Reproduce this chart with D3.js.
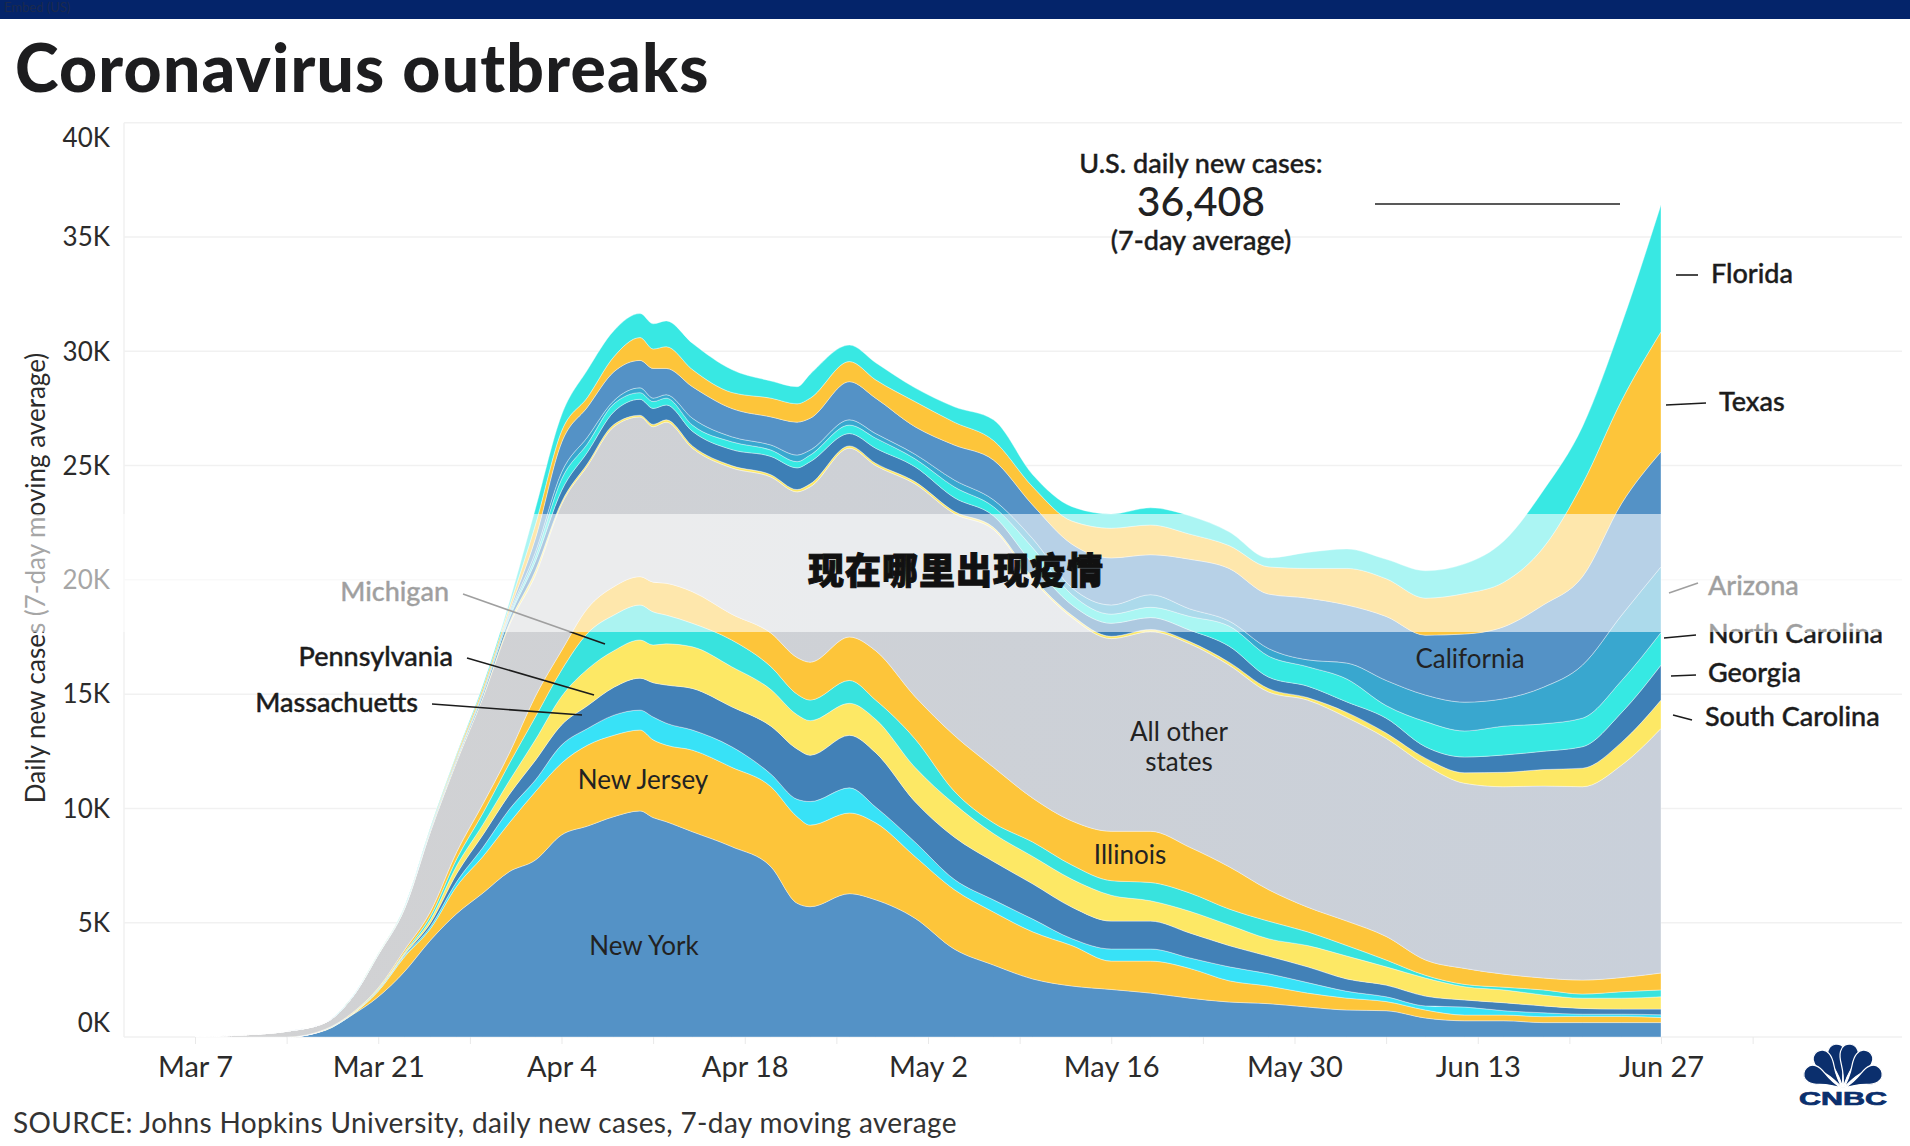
<!DOCTYPE html>
<html>
<head>
<meta charset="utf-8">
<style>
    html, body { margin: 0; padding: 0; background: #fff; }
    svg { display: block; }
    text { font-family: Lato, sans-serif; fill: #222; }
    .tick text { font-size: 29px; fill: #2b2b2b; }
    .label { font-size: 27px; font-weight: 500; fill: #1c1c1c; stroke: #1c1c1c; stroke-width: 0.4px; }
    .inside { font-size: 26px; font-weight: 400; }
</style>
<script src="https://cdn.jsdelivr.net/npm/d3@7"></script>
</head>
<body>
<svg id="chart" width="1910" height="1146"></svg>
<script>
// sample dates, values below are daily cases in thousands
const dates = ["2020-03-07","2020-03-11","2020-03-14","2020-03-17","2020-03-19","2020-03-21","2020-03-23","2020-03-25","2020-03-27","2020-03-29","2020-03-31","2020-04-02","2020-04-04","2020-04-06","2020-04-08","2020-04-10","2020-04-11","2020-04-12","2020-04-14","2020-04-17","2020-04-20","2020-04-22","2020-04-23","2020-04-26","2020-04-28","2020-05-01","2020-05-04","2020-05-07","2020-05-10","2020-05-13","2020-05-16","2020-05-19","2020-05-22","2020-05-25","2020-05-28","2020-05-31","2020-06-03","2020-06-06","2020-06-09","2020-06-12","2020-06-15","2020-06-18","2020-06-21","2020-06-24","2020-06-27"];

const newYork = [0,0,0,.3,.96,1.76,2.86,4.24,5.4,6.3,7.23,7.74,8.84,9.23,9.64,9.89,9.6,9.42,8.98,8.33,7.45,5.85,5.7,6.27,6.0,5.2,3.85,3.15,2.54,2.23,2.08,1.92,1.7,1.53,1.46,1.31,1.18,1.15,.83,.71,.71,.63,.63,.63,.63];
const newJersey = [0,0,0,.02,.02,.24,.64,.51,1.2,1.6,2.13,2.99,3.14,3.54,3.56,3.54,3.4,3.35,3.57,3.47,3.5,3.79,3.57,3.53,3.37,2.7,2.6,2.32,2.06,1.77,1.24,1.4,1.3,.93,.77,.61,.52,.4,.35,.25,.25,.26,.27,.27,.22];
const connecticut = [0,0,0,0,.01,.02,.05,.1,.2,.4,.59,.51,.79,.73,.88,.87,1.0,.96,.88,.9,.55,.76,1.03,1.1,.69,.63,.45,.53,.56,.3,.53,.53,.46,.61,.54,.46,.3,.21,.18,.35,.19,.17,.1,.1,.12];
const massachusetts = [0,0,0,.01,.01,.03,.05,.15,.35,.55,.65,.86,.88,1.0,1.22,1.4,1.5,1.67,1.82,1.75,2.1,2.2,2.03,2.3,2.38,1.77,1.85,1.68,1.54,1.38,1.22,1.22,1.09,.93,.77,.69,.54,.51,.43,.31,.35,.3,.25,.22,.25];
const pennsylvania = [0,0,0,0,.01,.03,.05,.15,.35,.45,.6,.9,1.25,1.6,1.6,1.67,1.65,1.8,1.82,1.75,1.6,1.5,1.51,1.4,1.46,1.5,1.45,1.22,1.2,1.22,1.13,.89,.95,.9,.76,.93,1.0,.8,.79,.58,.56,.48,.45,.48,.54];
const michigan = [0,0,0,.01,.01,.03,.05,.15,.3,.5,.75,1.0,1.15,1.57,1.56,1.53,1.45,1.26,1.03,1.17,1.0,.9,.9,1.0,.84,1.25,.56,.47,.63,.62,.64,.8,.8,.7,.77,.6,.46,.3,.12,.1,.12,.22,.18,.28,.3];
const illinois = [0,0,0,.01,.03,.04,.1,.2,.3,.4,.45,.9,.85,1.09,1.24,1.24,1.3,1.39,1.38,1.13,1.47,1.6,1.66,1.9,2.16,1.85,2.44,2.43,1.92,1.93,2.16,2.24,2.0,1.85,1.38,1.08,1.07,1.03,.67,.7,.57,.52,.61,.62,.74];
const otherStates = [.02,.1,.25,.29,.67,1.45,1.8,3.5,3.95,4.65,5.6,5.3,6.4,6.24,7.0,6.99,6.8,7.05,6.28,6.4,6.83,7.25,7.67,8.26,8.1,9.3,9.7,10.4,9.55,8.9,8.43,8.73,8.9,8.82,8.65,9.06,8.91,8.67,8.53,8.1,8.2,8.4,8.46,9.3,10.7];
const southCarolina = [0,0,0,0,0,0,.01,.02,.05,.05,.1,.2,.1,.1,.1,.07,.1,.1,.1,.1,.1,.1,.13,.1,.1,.1,.1,.1,.1,.1,.1,.1,.1,.13,.15,.11,.22,.23,.3,.46,.63,.72,.81,1.0,1.24];
const georgia = [0,0,0,0,.01,.01,.02,.04,.05,.1,.2,.4,.5,.5,.55,.7,.7,.65,.64,.7,.8,.95,.97,.54,.66,.65,.6,.5,.6,.45,.57,.52,.5,.7,.5,.5,.46,.65,.5,.69,.76,.8,.94,1.3,1.53];
const northCarolina = [0,0,0,0,0,.01,.01,.02,.03,.05,.1,.2,.5,.37,.35,.29,.3,.3,.27,.34,.28,.27,.29,.37,.44,.35,.47,.4,.7,.45,.4,.45,.6,.88,.92,.85,1.0,.55,1.1,1.14,1.26,1.2,1.25,1.4,1.43];
const arizona = [0,0,0,0,0,0,.01,.02,.02,.05,.1,.2,.3,.29,.14,.21,.15,.15,.3,.22,.22,.29,.22,.23,.2,.2,.3,.3,.4,.3,.4,.55,.33,.22,.33,.3,.7,1.1,1.16,1.26,1.2,1.6,2.32,2.86,2.87];
const california = [0,0,0,.01,.01,.01,.02,.03,.05,.05,.1,.6,1.3,1.31,1.26,1.2,1.3,1.15,1.38,1.24,1.23,1.44,1.39,1.67,1.55,1.2,1.53,1.74,1.47,1.91,2.06,1.75,2.17,2.3,2.38,2.7,2.54,2.8,2.62,2.98,3.15,3.6,3.87,4.89,5.03];
const texas = [0,0,0,0,0,.01,.01,.03,.1,.15,.2,.6,.5,.43,.66,1.0,.85,.95,.75,.7,.82,.8,.88,.88,.8,1.1,1.0,.86,.8,1.01,1.3,1.3,1.1,1.0,1.19,1.3,1.6,1.65,1.62,1.77,1.95,2.5,4.06,4.51,5.25];
const florida = [0,0,0,0,.01,.01,.02,.04,.05,.1,.2,.7,.7,1.2,1.14,1.05,1.1,1.13,1.15,1.0,.75,.75,1.05,.72,.75,.6,.67,.9,.53,.63,.62,.75,.8,.6,.39,.7,.85,.85,1.2,1.3,1.8,2.5,2.5,3.34,5.56];

const stateNames = ["New York","New Jersey","Connecticut","Massachusetts","Pennsylvania","Michigan","Illinois","All other states","South Carolina","Georgia","North Carolina","Arizona","California","Texas","Florida"];
const stateValues = [newYork,newJersey,connecticut,massachusetts,pennsylvania,michigan,illinois,otherStates,southCarolina,georgia,northCarolina,arizona,california,texas,florida];
const stateColors = ["#5492c6","#fdc53a","#38e2f7","#4281b7","#fde865","#38e3de","#fdc53a","url(#grayFade)","#fde865","#3d7fb6","#36e9e3","#39a7cf","#5492c6","#fdc53a","#38e8e3"];

const yTicks = [0,5,10,15,20,25,30,35,40];
const xLabels = ["2020-03-07","2020-03-21","2020-04-04","2020-04-18","2020-05-02","2020-05-16","2020-05-30","2020-06-13","2020-06-27"];

const svg = d3.select("#chart");
const parse = d3.utcParse("%Y-%m-%d");

const left = 124, right = 1902, baseY = 1037;
const x = d3.scaleUtc().domain([parse(dates[0]), parse(dates[dates.length - 1])]).range([195, 1661]);
const y = d3.scaleLinear().domain([0, 40]).range([baseY, 122.7]);

const defs = svg.append("defs");
const fade = defs.append("linearGradient").attr("id", "grayFade");
fade.append("stop").attr("offset", "0%").attr("stop-color", "#d2d2d3");
fade.append("stop").attr("offset", "100%").attr("stop-color", "#c9d0da");

// top strip
svg.append("rect").attr("width", 1910).attr("height", 19).attr("fill", "#04246a");
svg.append("text").attr("x", 4).attr("y", 12).attr("font-size", 13).style("fill", "#1b2a4e").text("Embed (US)");

svg.append("text").attr("x", 15).attr("y", 92)
    .style("font-size", "66px").style("font-weight", 900).style("fill", "#1d1d1f").style("letter-spacing", "1.2px")
    .text("Coronavirus outbreaks");

// grid
svg.append("g").selectAll("line").data(yTicks).enter().append("line")
    .attr("x1", left).attr("x2", right)
    .attr("y1", d => y(d)).attr("y2", d => y(d))
    .attr("stroke", "#f1f1f1").attr("stroke-width", 1.5);
svg.append("line").attr("x1", left).attr("x2", left).attr("y1", y(40)).attr("y2", baseY)
    .attr("stroke", "#f1f1f1").attr("stroke-width", 1.5);

// stacked areas
const rows = dates.map((d, i) => {
    const row = { date: parse(d) };
    stateNames.forEach((name, j) => { row[name] = stateValues[j][i]; });
    return row;
});
const layers = d3.stack().keys(stateNames)(rows);
const area = d3.area()
    .curve(d3.curveMonotoneX)
    .x(d => x(d.data.date))
    .y0(d => y(d[0]))
    .y1(d => y(d[1]));

svg.append("g").selectAll("path").data(layers).enter().append("path")
    .attr("d", area)
    .attr("fill", (d, i) => stateColors[i])
    .attr("stroke", "#fff").attr("stroke-opacity", 0.45).attr("stroke-width", 0.8);

// axes
const yAxis = svg.append("g").attr("transform", `translate(${left},0)`)
    .call(d3.axisLeft(y).tickValues(yTicks).tickSize(0).tickPadding(14).tickFormat(d => d + "K"));
yAxis.select(".domain").remove();
yAxis.selectAll(".tick text").style("font-size", "26px")
    .attr("dy", d => d === 40 ? "0.9em" : d === 0 ? "-0.22em" : "0.34em");

const weekly = d3.utcDay.range(parse("2020-03-07"), parse("2020-07-05"), 7);
const labelSet = new Set(xLabels);
const fmt = d3.utcFormat("%b %-d"), iso = d3.utcFormat("%Y-%m-%d");
const xAxis = svg.append("g").attr("transform", `translate(0,${baseY})`)
    .call(d3.axisBottom(x).tickValues(weekly).tickSize(7).tickPadding(12)
        .tickFormat(d => labelSet.has(iso(d)) ? fmt(d) : ""));
xAxis.select(".domain").remove();
xAxis.selectAll(".tick line").attr("stroke", "#e9e9e9");

svg.append("text").attr("transform", "translate(45,578) rotate(-90)").attr("text-anchor", "middle")
    .style("font-size", "26px").style("fill", "#2b2b2b")
    .text("Daily new cases (7-day moving average)");

// annotation at the peak
svg.append("text").attr("x", 1201).attr("y", 173).attr("text-anchor", "middle").attr("class", "label").text("U.S. daily new cases:");
svg.append("text").attr("x", 1201).attr("y", 216).attr("text-anchor", "middle").style("font-size", "41px").style("font-weight", 500).text("36,408");
svg.append("text").attr("x", 1201).attr("y", 250).attr("text-anchor", "middle").attr("class", "label").text("(7-day average)");
svg.append("line").attr("x1", 1375).attr("x2", 1620).attr("y1", 204).attr("y2", 204).attr("stroke", "#222").attr("stroke-width", 1.6);

// labels with leader lines
const callouts = [
    ["Florida", 1711, 283, "start", 1676, 275, 1698, 275],
    ["Texas", 1719, 411, "start", 1666, 405, 1706, 403],
    ["Arizona", 1708, 595, "start", 1669, 593, 1698, 583],
    ["North Carolina", 1708, 643, "start", 1664, 638, 1696, 635],
    ["Georgia", 1708, 682, "start", 1671, 676, 1696, 675],
    ["South Carolina", 1705, 726, "start", 1673, 715, 1692, 720],
    ["Michigan", 449, 601, "end", 463, 594, 605, 644],
    ["Pennsylvania", 453, 666, "end", 467, 658, 594, 695],
    ["Massachuetts", 418, 712, "end", 432, 704, 582, 715]
];
const labelColor = "#1c1c1c";
callouts.forEach(c => {
    svg.append("line").attr("x1", c[4]).attr("y1", c[5]).attr("x2", c[6]).attr("y2", c[7])
        .attr("stroke", labelColor).attr("stroke-width", 1.6);
    svg.append("text").attr("class", "label").attr("x", c[1]).attr("y", c[2]).attr("text-anchor", c[3]).text(c[0]);
});

const inside = [["California", 1470, 668], ["All other", 1179, 741], ["states", 1179, 771], ["Illinois", 1130, 864], ["New Jersey", 643, 789], ["New York", 644, 955]];
inside.forEach(t => {
    svg.append("text").attr("class", "inside").attr("x", t[1]).attr("y", t[2]).attr("text-anchor", "middle").text(t[0]);
});

svg.append("text").attr("x", 13).attr("y", 1133).style("font-size", "28px").style("letter-spacing", "0.35px").style("fill", "#333")
    .text("SOURCE: Johns Hopkins University, daily new cases, 7-day moving average");

// logo
const logo = svg.append("g").attr("fill", "#0b2f6d").attr("stroke", "#fff").attr("stroke-width", 1.2);
[[-10, 47, 9], [10, 47, 9], [-35, 47, 9], [35, 47, 9], [-64, 44, 9], [64, 44, 9]].forEach(p => {
    const [angle, len, w] = p;
    logo.append("path")
        .attr("transform", `translate(1843,1089) rotate(${angle})`)
        .attr("d", `M0,0 C${-w * 0.2},${-len * 0.5} ${-w * 1.1},${-len * 0.55} ${-w},${-len * 0.78} C${-w * 0.9},${-len * 1.03} ${w * 0.9},${-len * 1.03} ${w},${-len * 0.78} C${w * 1.1},${-len * 0.55} ${w * 0.2},${-len * 0.5} 0,0Z`);
});
svg.append("text").attr("x", 1799).attr("y", 1105).attr("textLength", 88).attr("lengthAdjust", "spacingAndGlyphs")
    .style("font-family", "'Liberation Sans'").style("font-size", "18px").style("font-weight", 700)
    .style("fill", "#0b2f6d").style("stroke", "#0b2f6d").style("stroke-width", 0.7).text("CNBC");

// pale band with headline on top of everything
svg.append("rect").attr("x", 0).attr("y", 514).attr("width", 1910).attr("height", 118)
    .attr("fill", "#fff").attr("opacity", 0.58);
svg.append("text").attr("x", 956).attr("y", 584).attr("text-anchor", "middle")
    .style("font-family", "'Noto Sans CJK SC'").style("font-size", "36px").style("font-weight", 900)
    .style("fill", "#111").style("stroke", "#111").style("stroke-width", 1).style("letter-spacing", "1px")
    .text("现在哪里出现疫情");
</script>
</body>
</html>
